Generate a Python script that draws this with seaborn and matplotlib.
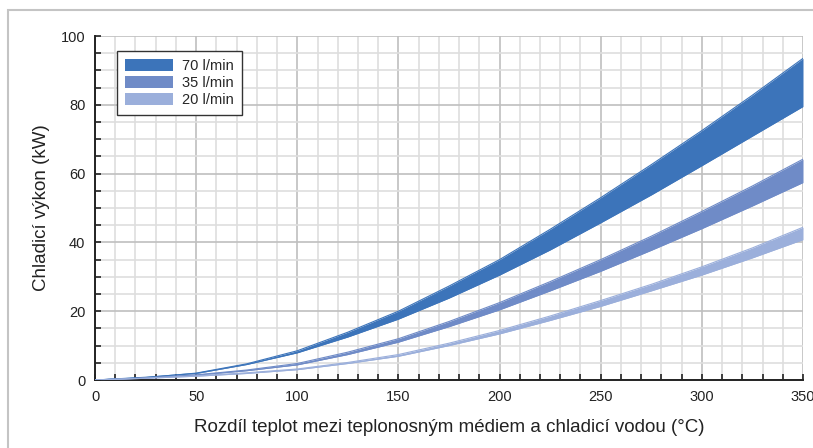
import seaborn as sns
import matplotlib.pyplot as plt
import matplotlib.patches as mpatches
from matplotlib.ticker import MultipleLocator
import pandas as pd

# data
teplota = [0, 25, 50, 75, 100, 125, 150, 175, 200, 225, 250, 275, 300, 325, 350]
prutok = ['70 l/min', '35 l/min', '20 l/min']
horni = {
    '70 l/min': [0, 0.7, 2.0, 4.7, 8.5, 13.9, 20.0, 27.3, 35.0, 43.8, 53.0, 62.6, 72.5, 82.8, 93.5],
    '35 l/min': [0, 0.6, 1.5, 2.9, 4.8, 8.1, 12.0, 17.0, 22.5, 28.6, 35.0, 41.8, 49.0, 56.4, 64.2],
    '20 l/min': [0, 0.5, 1.2, 2.1, 3.2, 5.1, 7.4, 10.7, 14.4, 18.6, 23.1, 27.8, 32.9, 38.4, 44.4],
}
dolni = {
    '70 l/min': [0, 0.8, 1.9, 4.5, 7.9, 12.5, 17.7, 23.8, 30.5, 37.8, 45.7, 53.8, 62.3, 70.9, 79.5],
    '35 l/min': [0, 0.6, 1.4, 2.7, 4.4, 7.4, 11.0, 15.5, 20.4, 25.9, 31.6, 37.7, 44.0, 50.6, 57.4],
    '20 l/min': [0, 0.5, 1.1, 1.9, 3.0, 4.8, 6.9, 10.0, 13.4, 17.3, 21.4, 25.9, 30.5, 35.5, 40.8],
}
barvy = {'70 l/min': '#3c74ba', '35 l/min': '#6f8bc7', '20 l/min': '#9bafdb'}

sns.set_theme(style='white')
plt.rcParams['font.family'] = ['Liberation Sans', 'DejaVu Sans']

fig = plt.figure(figsize=(8.13, 4.48), dpi=100)
ax = fig.add_axes([95/813, 68/448, 708/813, 344/448])

# grey frame around the chart (runs off the right and bottom edges)
fig.patches.append(mpatches.Rectangle((8/813, -0.2), 1.2, 1.2 - 10/448, transform=fig.transFigure,
                                      fill=False, edgecolor='#c4c4c4', lw=1.5, zorder=0))

rows = []
for p in prutok:
    for x, hi, lo in zip(teplota, horni[p], dolni[p]):
        rows.append({'teplota': x, 'prutok': p, 'mez': 'horni', 'vykon': hi})
        rows.append({'teplota': x, 'prutok': p, 'mez': 'dolni', 'vykon': lo})
df = pd.DataFrame(rows)

for p in prutok[::-1]:
    ax.fill_between(teplota, dolni[p], horni[p], color=barvy[p], lw=0, zorder=3)
sns.lineplot(data=df, x='teplota', y='vykon', hue='prutok', units='mez', estimator=None,
             palette=barvy, lw=0.8, legend=False, ax=ax, zorder=3)

ax.set_xlim(0, 350)
ax.set_ylim(0, 100)
ax.xaxis.set_major_locator(MultipleLocator(50))
ax.xaxis.set_minor_locator(MultipleLocator(10))
ax.yaxis.set_major_locator(MultipleLocator(20))
ax.yaxis.set_minor_locator(MultipleLocator(5))
ax.grid(which='major', color='#bfbfbf', lw=1.2)
ax.grid(which='minor', color='#dedede', lw=1.2)
ax.set_axisbelow(True)

for s in ['top', 'right']:
    ax.spines[s].set_visible(False)
for s in ['left', 'bottom']:
    ax.spines[s].set_color('#222222')
    ax.spines[s].set_linewidth(1.4)
ax.tick_params(which='both', direction='in', length=4, width=1.2, color='#222222',
               left=True, bottom=True, labelsize=10.5, pad=7, labelcolor='#222222')

ax.set_xlabel('Rozdíl teplot mezi teplonosným médiem a chladicí vodou (°C)', fontsize=13.5,
              color='#222222', labelpad=11)
ax.set_ylabel('Chladicí výkon (kW)', fontsize=13.5, color='#222222', labelpad=8)

handles = [mpatches.Patch(facecolor=barvy[p], edgecolor='none', label=p) for p in prutok]
leg = ax.legend(handles=handles, loc='upper left', bbox_to_anchor=(0.031, 0.956), borderaxespad=0,
                fontsize=10.5, handlelength=3.3, handleheight=0.9, labelspacing=0.2,
                handletextpad=0.6, borderpad=0.55, fancybox=False, framealpha=1)
leg.get_frame().set_edgecolor('#333333')
leg.get_frame().set_linewidth(1.0)
leg.set_zorder(5)

fig.savefig('out.png', dpi=100)
